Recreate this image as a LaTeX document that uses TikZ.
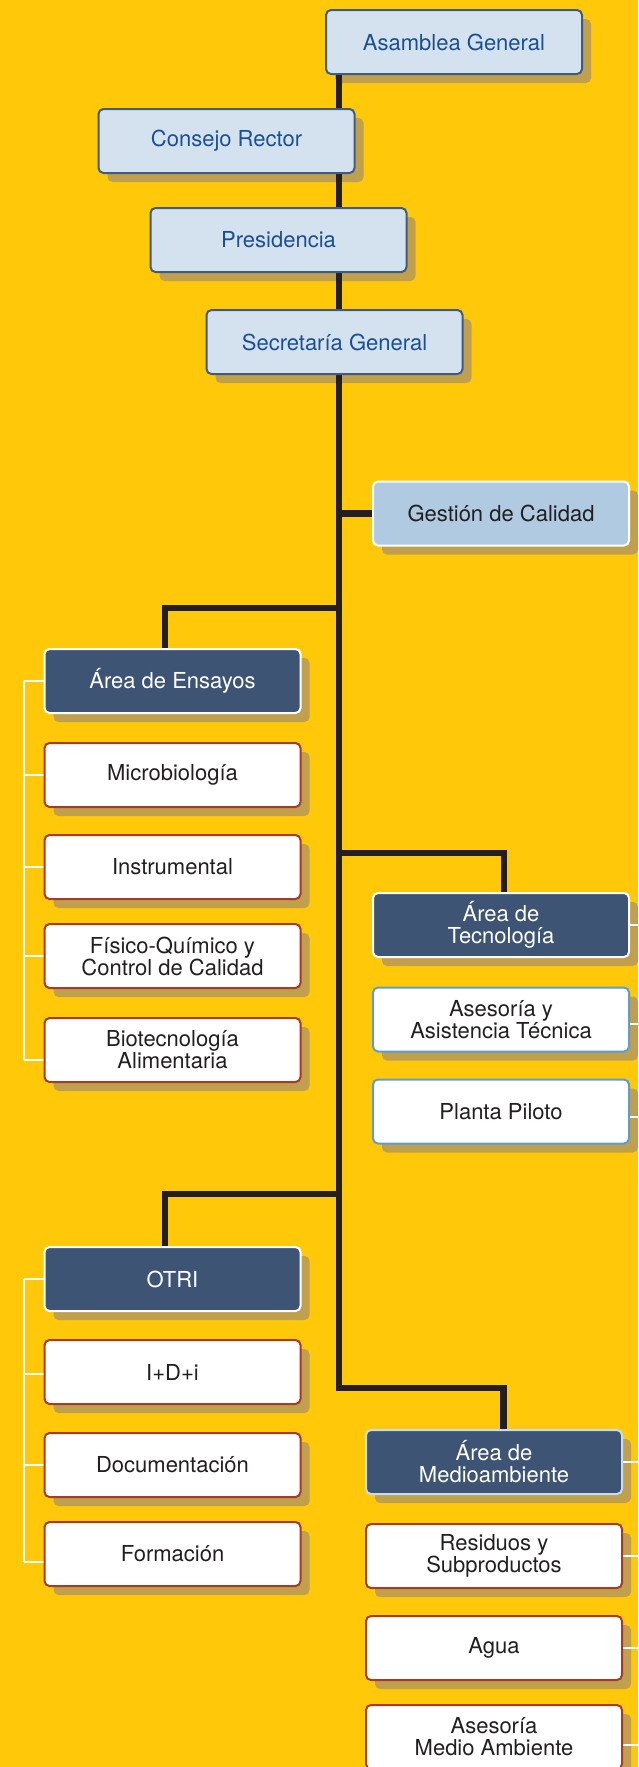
\documentclass[tikz,border=0pt]{standalone}
\usepackage{fontspec}
\setmainfont{TeX Gyre Heros}
\usetikzlibrary{calc}
\pgfdeclarelayer{shad}
\pgfdeclarelayer{lines}
\pgfsetlayers{shad,lines,main}
\definecolor{bgyellow}{HTML}{FFC90A}
\definecolor{shadowc}{HTML}{C0A04D}
\definecolor{topfill}{HTML}{D4E2EF}
\definecolor{topborder}{HTML}{3F5B84}
\definecolor{toptext}{HTML}{1A4F95}
\definecolor{gestfill}{HTML}{AFCAE1}
\definecolor{darkfill}{HTML}{3E5475}
\definecolor{redborder}{HTML}{A93A26}
\definecolor{blueborder}{HTML}{5B9ECF}
\definecolor{lightborder}{HTML}{C5DDF0}
\definecolor{linec}{HTML}{231F20}
\begin{document}
\begin{tikzpicture}[x=0.5pt,y=-0.5pt,
  box/.style={rectangle, rounded corners=2.5pt, line width=1pt, minimum width=128pt,
    minimum height=32pt, inner sep=0pt, outer sep=0pt, align=center,
    font=\fontsize{11}{11}\selectfont},
  topbox/.style={box, fill=topfill, draw=topborder, text=toptext},
  gestbox/.style={box, fill=gestfill, draw=white, text=linec},
  darkbox/.style={box, fill=darkfill, draw=white, text=white},
  redbox/.style={box, fill=white, draw=redborder, text=linec},
  bluebox/.style={box, fill=white, draw=blueborder, text=linec},
  conn/.style={draw=linec, line width=3.4pt, line join=miter},
  brk/.style={draw=white, line width=1pt}]
\useasboundingbox (0,0) rectangle (638,1767);
% nodes
\node[topbox] (asam) at (454,42) {Asamblea General};
\node[topbox] (cons) at (226.5,141) {Consejo Rector};
\node[topbox] (pres) at (278.5,240) {Presidencia};
\node[topbox] (secr) at (334.5,342) {Secretaría General};
\node[gestbox] (gest) at (501,513.5) {Gestión de Calidad};
\node[darkbox] (ens) at (172.5,681) {Área de Ensayos};
\node[redbox] (mic) at (172.5,775) {Microbiología};
\node[redbox] (ins) at (172.5,867) {Instrumental};
\node[redbox] (fis) at (172.5,956) {Físico-Químico y\\Control de Calidad};
\node[redbox] (bio) at (172.5,1050) {Biotecnología\\Alimentaria};
\node[darkbox] (tec) at (501,925) {Área de\\Tecnología};
\node[bluebox] (ase) at (501,1019.5) {Asesoría y\\Asistencia Técnica};
\node[bluebox] (pla) at (501,1111.5) {Planta Piloto};
\node[darkbox] (otri) at (172.5,1279) {OTRI};
\node[redbox] (idi) at (172.5,1372) {I+D+i};
\node[redbox] (doc) at (172.5,1465) {Documentación};
\node[redbox] (for) at (172.5,1554) {Formación};
\node[darkbox, draw=lightborder] (med) at (494,1462) {Área de\\Medioambiente};
\node[redbox] (res) at (494,1556) {Residuos y\\Subproductos};
\node[redbox] (agu) at (494,1648) {Agua};
\node[redbox] (asm) at (494,1737) {Asesoría\\Medio Ambiente};
% background and shadows
\begin{pgfonlayer}{shad}
  \fill[bgyellow] (0,0) rectangle (638,1767);
  \foreach \n in {asam,cons,pres,secr,gest,ens,mic,ins,fis,bio,tec,ase,pla,otri,idi,doc,for,med,res,agu,asm}{
    \fill[shadowc, rounded corners=2.5pt] ([shift={(9,9)}]\n.south west) rectangle ([shift={(9,9)}]\n.north east);
  }
\end{pgfonlayer}
% connectors
\begin{pgfonlayer}{lines}
  \coordinate (cx) at (339,0);
  \coordinate (cbot) at (339,1388);
  \coordinate (mdrop) at (503.5,1388);
  \draw[conn] (asam.south -| cx) -- (cbot) -- (mdrop) -- (mdrop |- med.north);
  \draw[conn] (gest.west -| cx) -- (gest.west);
  \coordinate (ej) at (339,608);
  \coordinate (edrop) at (165,608);
  \draw[conn] (ej) -- (edrop) -- (edrop |- ens.north);
  \coordinate (tj) at (339,853);
  \coordinate (tdrop) at (504,853);
  \draw[conn] (tj) -- (tdrop) -- (tdrop |- tec.north);
  \coordinate (oj) at (339,1194);
  \coordinate (odrop) at (165,1194);
  \draw[conn] (oj) -- (odrop) -- (odrop |- otri.north);
  % left brackets
  \coordinate (bl) at (24,0);
  \coordinate (biot) at ([shift={(0,10)}]bio.west);
  \draw[brk] (ens.west -| bl) -- (biot -| bl);
  \foreach \n in {ens.west,mic.west,ins.west,fis.west,biot}{ \draw[brk] (\n -| bl) -- (\n); }
  \coordinate (fort) at ([shift={(0,8)}]for.west);
  \coordinate (idit) at ([shift={(0,2)}]idi.west);
  \draw[brk] (otri.west -| bl) -- (fort -| bl);
  \foreach \n in {otri.west,idit,doc.west,fort}{ \draw[brk] (\n -| bl) -- (\n); }
  % right ticks
  \coordinate (br) at (640,0);
  \coordinate (aset) at ([shift={(0,4.5)}]ase.east);
  \coordinate (plat) at ([shift={(0,5.5)}]pla.east);
  \coordinate (asmt) at ([shift={(0,8)}]asm.east);
  \foreach \n in {tec.east,aset,plat,med.east,res.east,agu.east,asmt}{ \draw[brk] (\n) -- (\n -| br); }
\end{pgfonlayer}
\end{tikzpicture}
\end{document}
